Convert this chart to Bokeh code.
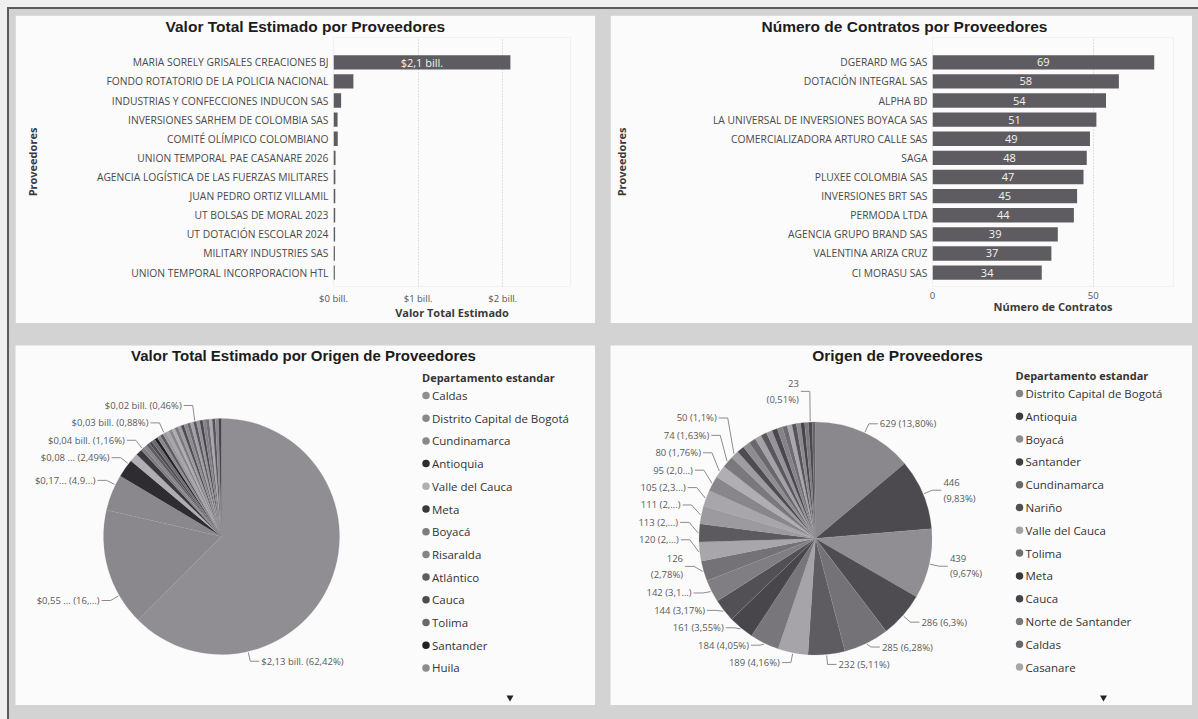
import math
from bokeh.plotting import figure
from bokeh.models import ColumnDataSource, Range1d, FixedTicker
from bokeh.layouts import row, column
from bokeh.embed import file_html
from bokeh.resources import INLINE
from bokeh.core.properties import value

# ---------------- data ----------------
prov_valor = [
    "MARIA SORELY GRISALES CREACIONES BJ",
    "FONDO ROTATORIO DE LA POLICIA NACIONAL",
    "INDUSTRIAS Y CONFECCIONES INDUCON SAS",
    "INVERSIONES SARHEM DE COLOMBIA SAS",
    "COMITÉ OLÍMPICO COLOMBIANO",
    "UNION TEMPORAL PAE CASANARE 2026",
    "AGENCIA LOGÍSTICA DE LAS FUERZAS MILITARES",
    "JUAN PEDRO ORTIZ VILLAMIL",
    "UT BOLSAS DE MORAL 2023",
    "UT DOTACIÓN ESCOLAR 2024",
    "MILITARY INDUSTRIES SAS",
    "UNION TEMPORAL INCORPORACION HTL",
]
valor_bill = [2.09, 0.235, 0.09, 0.048, 0.05, 0.024, 0.022, 0.021, 0.02, 0.019, 0.017, 0.016]
valor_ticks = [0, 1, 2]
valor_tick_labels = ["$0 bill.", "$1 bill.", "$2 bill."]

prov_contratos = [
    "DGERARD MG SAS",
    "DOTACIÓN INTEGRAL SAS",
    "ALPHA BD",
    "LA UNIVERSAL DE INVERSIONES BOYACA SAS",
    "COMERCIALIZADORA ARTURO CALLE SAS",
    "SAGA",
    "PLUXEE COLOMBIA SAS",
    "INVERSIONES BRT SAS",
    "PERMODA LTDA",
    "AGENCIA GRUPO BRAND SAS",
    "VALENTINA ARIZA CRUZ",
    "CI MORASU SAS",
]
n_contratos = [69, 58, 54, 51, 49, 48, 47, 45, 44, 39, 37, 34]
contratos_ticks = [0, 50]
contratos_tick_labels = ["0", "50"]

# pie 1: valor total estimado por departamento (bill.)
deptos_valor = ["Caldas", "Distrito Capital de Bogotá", "Cundinamarca", "Antioquia",
                "Valle del Cauca", "Meta", "Boyacá", "Risaralda", "Atlántico", "Cauca",
                "Tolima", "Santander", "Huila"]
valor_depto_bill = [2.13, 0.55, 0.17, 0.085, 0.0396, 0.03, 0.0157,
                    0.0156, 0.0156, 0.0155, 0.0154, 0.0154, 0.0153,
                    0.0153, 0.0152, 0.0152, 0.0151, 0.0151, 0.015, 0.015,
                    0.015, 0.0149, 0.0149, 0.0148, 0.0148, 0.0147, 0.0147,
                    0.0146, 0.0146, 0.0145, 0.0145, 0.0144, 0.0144]
valor_depto_labels = ["$2,13 bill. (62,42%)", "$0,55 ... (16,...)", "$0,17... (4,9...)",
                      "$0,08 ... (2,49%)", "$0,04 bill. (1,16%)", "$0,03 bill. (0,88%)",
                      "$0,02 bill. (0,46%)"]

# pie 2: número de contratos por departamento
deptos_origen = ["Distrito Capital de Bogotá", "Antioquia", "Boyacá", "Santander",
                 "Cundinamarca", "Nariño", "Valle del Cauca", "Tolima", "Meta", "Cauca",
                 "Norte de Santander", "Caldas", "Casanare"]
n_origen = [629, 446, 439, 286, 285, 232, 189, 184, 161, 144, 142, 126, 120,
            113, 111, 105, 95, 80, 74, 50,
            47, 45, 44, 41, 38, 37, 35, 33, 31, 30, 28, 27, 25, 24, 23, 21]
origen_labels = ["629 (13,80%)", "446\n(9,83%)", "439\n(9,67%)", "286 (6,3%)", "285 (6,28%)",
                 "232 (5,11%)", "189 (4,16%)", "184 (4,05%)", "161 (3,55%)", "144 (3,17%)",
                 "142 (3,1...)", "126\n(2,78%)", "120 (2,...)", "113 (2,...)", "111 (2,...)",
                 "105 (2,3...)", "95 (2,0...)", "80 (1,76%)", "74 (1,63%)", "50 (1,1%)",
                 "", "", "", "", "", "", "", "", "", "", "", "", "", "", "23\n(0,51%)", ""]

# ---------------- style ----------------
PANEL = "#fbfbfb"
BAND = "#d3d3d3"
BAR = "#5e5c60"
TXT = "#4a4a4a"
TITLE_C = "#1c1c1c"
FONT = "Open Sans"
TFONT = "Liberation Sans"
TITLE_SIZE = "15.5px"

legend_colors_1 = ["#908e92", "#8a888c", "#8a888c", "#2e2c30", "#b0aeb2", "#3a383c", "#7e7c80",
                   "#868488", "#5e5c60", "#4e4c50", "#6a686c", "#222024", "#8c8a8e"]
extra_colors = ["#5c5a5e", "#9c9a9e", "#a8a6aa", "#88868a", "#b0aeb2", "#7a787c", "#9e9ca0",
                "#4e4c50", "#8e8c90", "#6a686c", "#a4a2a6", "#5a585c", "#96949a", "#4a484c",
                "#84828a", "#6e6c72", "#aaa8ac", "#55545a", "#8c8a8e", "#47454a", "#7c7a7e",
                "#4a484c", "#66646a"]
legend_colors_2 = ["#878589", "#3e3c40", "#8e8c90", "#403e42", "#6c6a6e", "#525054", "#a4a2a6",
                   "#706e72", "#3a383c", "#46444a", "#7a787c", "#6a686c", "#a8a6aa"]
slice_colors_2 = ["#8a888c", "#4c4a4e", "#908e92", "#4e4c50", "#747276", "#5e5c60", "#a6a4a8",
                  "#78767a", "#48464a", "#525054", "#807e82", "#747276", "#a8a6aa"]


def bar_fig(cats, vals, xmax, ticks, tick_labels, grid_ticks, xlabel, title, width,
            frame_left, right_border, title_offset, ylab_standoff, label_fn):
    n = len(cats)
    ypos = [n - i for i in range(n)]          # first category on top
    p = figure(width=width, height=308, x_range=Range1d(0, xmax),
               y_range=Range1d(1 - 0.727, n + 1.297),
               title=title, output_backend="svg", toolbar_location=None,
               min_border_left=frame_left, min_border_right=right_border,
               min_border_top=20, min_border_bottom=37,
               background_fill_color=PANEL, border_fill_color=PANEL, outline_line_color=None)
    src = ColumnDataSource(dict(y=ypos, val=vals, mid=[v / 2 for v in vals],
                                lab=[label_fn(v) for v in vals]))
    p.hbar(y="y", right="val", height=0.75, source=src, fill_color=BAR, line_color=None)
    p.text(x="mid", y="y", text="lab", source=src, text_align="center",
           text_baseline="middle", text_color="#f4f4f4", text_font=value(FONT),
           text_font_size="11px")
    # title
    p.title.align = "left"
    p.title.vertical_align = "middle"
    p.title.offset = title_offset
    p.title.text_font = TFONT
    p.title.text_font_size = TITLE_SIZE
    p.title.text_font_style = "bold"
    p.title.text_color = TITLE_C
    p.title.standoff = 3
    # x axis
    xa = p.xaxis[0]
    xa.ticker = FixedTicker(ticks=ticks)
    xa.major_label_overrides = {t: l for t, l in zip(ticks, tick_labels)}
    xa.axis_line_color = None
    xa.major_tick_line_color = None
    xa.minor_tick_line_color = None
    xa.major_tick_out = 0
    xa.major_tick_in = 0
    xa.major_label_standoff = 5
    xa.major_label_text_font = FONT
    xa.major_label_text_font_size = "9.5px"
    xa.major_label_text_color = "#555555"
    xa.axis_label = xlabel
    xa.axis_label_text_font = FONT
    xa.axis_label_text_font_style = "bold"
    xa.axis_label_text_font_size = "11px"
    xa.axis_label_text_color = "#3a3a3a"
    xa.axis_label_standoff = -3
    # y axis (categories)
    ya = p.yaxis[0]
    ya.ticker = FixedTicker(ticks=ypos)
    ya.major_label_overrides = {y: c for y, c in zip(ypos, cats)}
    ya.axis_line_color = None
    ya.major_tick_line_color = None
    ya.minor_tick_line_color = None
    ya.major_tick_out = 0
    ya.major_tick_in = 0
    ya.major_label_standoff = 5
    ya.major_label_text_font = FONT
    ya.major_label_text_font_size = "10.3px"
    ya.major_label_text_color = TXT
    ya.axis_label = "Proveedores"
    ya.axis_label_text_font = FONT
    ya.axis_label_text_font_style = "bold"
    ya.axis_label_text_font_size = "11px"
    ya.axis_label_text_color = "#3a3a3a"
    ya.axis_label_standoff = ylab_standoff
    p.ygrid.grid_line_color = None
    p.xgrid.ticker = FixedTicker(ticks=grid_ticks)
    p.xgrid.grid_line_dash = "1 2"
    p.xgrid.grid_line_color = "#c4c4c4"
    return p


p1 = bar_fig(prov_valor, valor_bill, 2.8, valor_ticks, valor_tick_labels, [1, 2],
             "Valor Total Estimado", "Valor Total Estimado por Proveedores", 580, 318, 25,
             -168, 54,
             lambda v: ("$%.1f bill." % v).replace(".", ",", 1) if v > 1 else "")
p2 = bar_fig(prov_contratos, n_contratos, 75, contratos_ticks, contratos_tick_labels, [50],
             "Número de Contratos", "Número de Contratos por Proveedores", 582, 320, 19,
             -171, 81, lambda v: str(v))


def pie_fig(width, title, title_x, title_size, cx, cy, r, vals, colors, label_angles, labels,
            names, legend_colors, lx, ly0, pitch):
    p = figure(width=width, height=360, x_range=Range1d(0, width), y_range=Range1d(0, 360),
               x_axis_type=None, y_axis_type=None, min_border=0,
               output_backend="svg", toolbar_location=None,
               background_fill_color=PANEL, border_fill_color=PANEL, outline_line_color=None)
    tot = float(sum(vals))
    cum = [0.0]
    for v in vals:
        cum.append(cum[-1] + v / tot * 2 * math.pi)
    src = ColumnDataSource(dict(start=[math.pi / 2 - a for a in cum[:-1]],
                                end=[math.pi / 2 - a for a in cum[1:]],
                                color=colors[:len(vals)]))
    p.wedge(x=cx, y=cy, radius=r, start_angle="start", end_angle="end", direction="clock",
            fill_color="color", line_color="#9a989c", line_width=0.4, line_alpha=0.5,
            source=src)
    # labels with leader lines
    if label_angles is None:
        label_angles = [math.degrees((cum[i] + cum[i + 1]) / 2) for i in range(len(vals))]
    items = []
    for a, t in zip(label_angles, labels):
        if not t:
            continue
        ar = math.radians(a)
        s, c = math.sin(ar), math.cos(ar)
        items.append(dict(ex=cx + (r + 1) * s, ey=cy + (r + 1) * c,
                          bx=cx + (r + 10) * s, by=cy + (r + 10) * c,
                          side=1 if s >= 0 else -1, text=t, nl=t.count("\n") + 1))
    for side in (1, -1):
        its = sorted([i for i in items if i["side"] == side], key=lambda d: d["by"])
        prev = None
        for it in its:
            if prev is not None:
                need = prev["by"] + 9.2 * (prev["nl"] + it["nl"]) - 1
                if it["by"] < need:
                    it["by"] = need
            prev = it
    xs, ys, tx, ty, tt, ta = [], [], [], [], [], []
    for it in items:
        hx = it["bx"] + it["side"] * 9
        xs.append([it["ex"], it["bx"], hx])
        ys.append([it["ey"], it["by"], it["by"]])
        tx.append(hx + it["side"] * 2)
        ty.append(it["by"])
        tt.append(it["text"])
        ta.append("left" if it["side"] > 0 else "right")
    p.multi_line(xs=xs, ys=ys, line_color="#8c8c8c", line_width=1)
    p.text(x=tx, y=ty, text=tt, text_align=ta, text_baseline="middle",
           text_font=value(FONT), text_font_size="9.5px", text_color="#5a5a5a",
           text_line_height=1.2)
    # title
    p.text(x=[title_x], y=[350], text=[title], text_align="center", text_baseline="middle",
           text_font=value(TFONT), text_font_style="bold", text_font_size=title_size,
           text_color=TITLE_C)
    # legend
    p.text(x=[lx - 4], y=[ly0 + 18], text=["Departamento estandar"], text_baseline="middle",
           text_font=value(FONT), text_font_style="bold", text_font_size="11px",
           text_color="#333333")
    lys = [ly0 - i * pitch for i in range(len(names))]
    p.scatter(x=[lx] * len(names), y=lys, size=7.5, marker="circle",
              fill_color=legend_colors, line_color=None)
    p.text(x=[lx + 6] * len(names), y=lys, text=names, text_baseline="middle",
           text_font=value(FONT), text_font_size="11.5px", text_color="#333333")
    p.scatter(x=[lx + 84], y=[8], size=7, marker="inverted_triangle", fill_color="#222222",
              line_color=None)
    return p


colors1 = legend_colors_1 + extra_colors
colors2 = slice_colors_2 + extra_colors
bl_label_angles = [167, 240, 296, 308, 318, 331, 347]

p3 = pie_fig(580, "Valor Total Estimado por Origen de Proveedores", 288, "15px",
             206, 169, 118, valor_depto_bill, colors1, bl_label_angles, valor_depto_labels,
             deptos_valor, legend_colors_1, 410.5, 310, 22.7)
p4 = pie_fig(582, "Origen de Proveedores", 287, TITLE_SIZE, 205, 167, 116.5,
             n_origen, colors2, None, origen_labels,
             deptos_origen, legend_colors_2, 409, 312, 22.8)

top = row(p1, p2, spacing=15)
bot = row(p3, p4, spacing=15)
layout = column(top, bot, spacing=22,
                styles={"background-color": BAND, "padding": "15px 6px 14px 15px",
                        "box-shadow": "inset 7px 7px 0 0 #efefef, inset 9px 9px 0 0 #5a5a5a"})

open("out.html", "w").write(file_html(layout, INLINE))
